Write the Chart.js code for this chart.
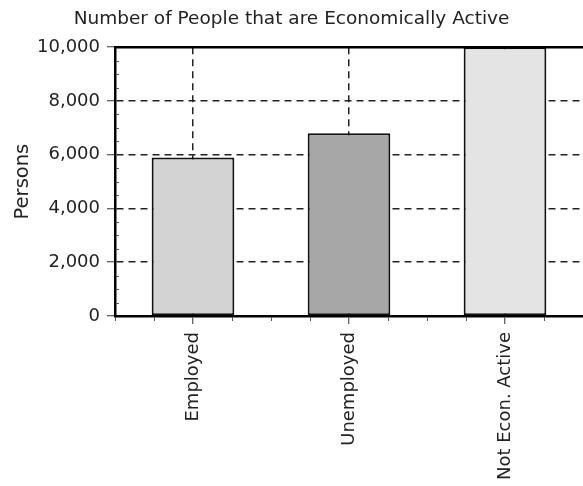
<!DOCTYPE html>
<html>
<head>
<meta charset="utf-8">
<script src="https://cdn.jsdelivr.net/npm/chart.js@4"></script>
<style>
  html, body { margin: 0; padding: 0; background: #fff; overflow: hidden; }
  #wrap { position: relative; width: 583px; height: 486px; }
</style>
</head>
<body>
<div id="wrap"><canvas id="activeChart"></canvas></div>
<script>
// Economic activity counts
const categories = ['Employed', 'Unemployed', 'Not Econ. Active'];
const persons = [5900, 6800, 10000];
const barFills = ['#d3d3d3', '#a7a7a7', '#e4e4e4'];
const yTickValues = [0, 2000, 4000, 6000, 8000, 10000];

const FONT = "'DejaVu Sans', sans-serif";
const INK = '#222';

// Frame line along the top of the plot plus the small minor tick marks
const frameAndMinorTicks = {
  id: 'frameAndMinorTicks',
  afterDraw(chart) {
    const { ctx, chartArea, scales } = chart;
    const x = scales.x, y = scales.y;
    ctx.save();
    ctx.strokeStyle = '#000';

    // top frame
    ctx.lineWidth = 2.5;
    ctx.beginPath();
    ctx.moveTo(chartArea.left, chartArea.top);
    ctx.lineTo(chartArea.right, chartArea.top);
    ctx.stroke();

    // minor y ticks every 500
    ctx.lineWidth = 1;
    ctx.strokeStyle = '#555';
    for (let v = 500; v < 10000; v += 500) {
      if (v % 2000 === 0) continue;
      const py = Math.round(y.getPixelForValue(v)) + 0.5;
      ctx.beginPath();
      ctx.moveTo(chartArea.left + 1, py);
      ctx.lineTo(chartArea.left + 4, py);
      ctx.stroke();
    }

    // minor x ticks at quarter steps
    for (let i = -0.5; i <= categories.length - 0.5; i += 0.25) {
      if (Number.isInteger(i)) continue;
      const px = Math.round(x.getPixelForValue(i)) + 0.5;
      if (px > chartArea.right) continue;
      ctx.beginPath();
      ctx.moveTo(px, chartArea.bottom + 1);
      ctx.lineTo(px, chartArea.bottom + 5);
      ctx.stroke();
    }
    ctx.restore();
  }
};

new Chart(document.getElementById('activeChart'), {
  type: 'bar',
  data: {
    labels: categories,
    datasets: [{
      label: 'Persons',
      data: persons,
      backgroundColor: barFills,
      borderColor: '#111',
      borderWidth: 2,
      borderSkipped: false,
      barPercentage: 0.53,
      categoryPercentage: 1
    }]
  },
  options: {
    responsive: true,
    maintainAspectRatio: false,
    animation: false,
    layout: { padding: { left: 0, right: 0, top: 0, bottom: 0 } },
    plugins: {
      legend: { display: false },
      tooltip: { enabled: false },
      title: {
        display: true,
        text: 'Number of People that are Economically Active',
        color: INK,
        font: { family: FONT, size: 18.5, weight: 'normal' },
        padding: { top: 8, bottom: 17 }
      }
    },
    scales: {
      x: {
        offset: true,
        afterFit: (scale) => { scale.height = 170; },
        grid: {
          offset: false,
          color: '#222',
          lineWidth: 1.5,
          tickLength: 8,
          tickWidth: 1,
          tickColor: '#333'
        },
        border: { color: '#000', width: 2.5, dash: [7, 5] },
        ticks: {
          color: INK,
          font: { family: FONT, size: 18 },
          minRotation: 90,
          maxRotation: 90,
          padding: 8,
          autoSkip: false
        }
      },
      y: {
        min: 0,
        max: 10000,
        afterFit: (scale) => { scale.width = 115; },
        afterBuildTicks: (scale) => { scale.ticks = yTickValues.map(v => ({ value: v })); },
        grid: {
          color: '#222',
          lineWidth: 1.5,
          tickLength: 8,
          tickWidth: 1,
          tickColor: '#333'
        },
        border: { color: '#000', width: 2.5, dash: [7, 5] },
        ticks: {
          color: INK,
          font: { family: FONT, size: 18 },
          padding: 7,
          callback: (v) => Number(v).toLocaleString('en-US')
        },
        title: {
          display: true,
          text: 'Persons',
          color: INK,
          font: { family: FONT, size: 19.5 },
          padding: { top: 11, bottom: 0 }
        }
      }
    }
  },
  plugins: [frameAndMinorTicks]
});
</script>
</body>
</html>
